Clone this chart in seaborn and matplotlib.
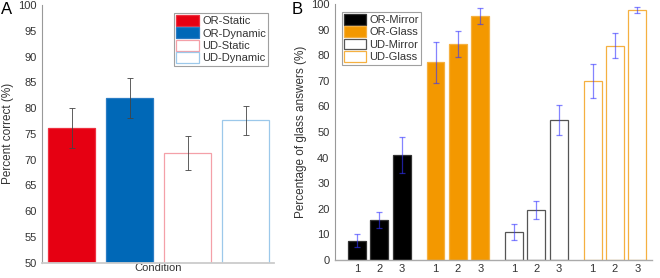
import numpy as np
import pandas as pd
import matplotlib
matplotlib.use("Agg")
import matplotlib.pyplot as plt
from matplotlib.patches import Patch
import seaborn as sns

# ---- Data: panel A ----
a_conditions = ["OR-Static", "OR-Dynamic", "UD-Static", "UD-Dynamic"]
a_values = [76.2, 82.0, 71.3, 77.6]
a_errors = [3.9, 3.9, 3.3, 2.9]

# ---- Data: panel B ----
b_conditions = ["OR-Mirror", "OR-Glass", "UD-Mirror", "UD-Glass"]
b_levels = ["1", "2", "3"]
b_or_mirror = [7.6, 15.6, 41.1]
b_or_glass = [77.2, 84.3, 95.3]
b_ud_mirror = [11.0, 19.5, 54.8]
b_ud_glass = [69.8, 83.7, 97.7]
b_or_mirror_err = [2.6, 3.2, 7.0]
b_or_glass_err = [8.0, 5.0, 3.3]
b_ud_mirror_err = [3.2, 3.5, 5.8]
b_ud_glass_err = [6.7, 4.8, 1.2]

sns.set_theme(style="white")
plt.rcParams["font.family"] = ["Liberation Sans", "DejaVu Sans"]
plt.rcParams["text.color"] = "#333333"
plt.rcParams["axes.labelcolor"] = "#333333"
plt.rcParams["xtick.color"] = "#333333"
plt.rcParams["ytick.color"] = "#333333"

fig = plt.figure(figsize=(6.6, 2.78), dpi=100)
axA = fig.add_axes([42 / 660, 1 - 262.7 / 278, 232 / 660, 257.7 / 278])
axB = fig.add_axes([335 / 660, 1 - 260 / 278, 317 / 660, 256 / 278])

fs = 8

# ---------- Panel A ----------
a_face = ["#e60012", "#0068b7", "none", "none"]
a_edge = ["#ee3040", "#2a7cc4", "#f4a0a8", "#9cc8ea"]
a_pos = [1, 2, 3, 4]
for i in range(4):
    d = pd.DataFrame({"pos": [a_pos[i]], "val": [a_values[i]]})
    filled = a_face[i] != "none"
    sns.barplot(data=d, x="pos", y="val", ax=axA, native_scale=True,
                color=a_face[i] if filled else a_edge[i], fill=filled,
                width=0.8, errorbar=None, saturation=1,
                edgecolor=a_edge[i], linewidth=0.9)
axA.errorbar(a_pos, a_values, yerr=a_errors, fmt="none", ecolor="#444444",
             elinewidth=0.6, capsize=2.2, capthick=0.6)
axA.set_xlim(0.49, 4.49)
axA.set_ylim(50, 100)
axA.set_yticks(np.arange(50, 101, 5))
axA.set_xticks([])
axA.set_xlabel("Condition", fontsize=fs, labelpad=0)
axA.set_ylabel("Percent correct (%)", fontsize=fs + 0.5, labelpad=3)
axA.tick_params(axis="y", direction="in", length=3, width=0.6, color="#888888",
                labelsize=fs, pad=4)
for s in ["top", "right"]:
    axA.spines[s].set_visible(False)
axA.spines["left"].set_color("#999999")
axA.spines["left"].set_linewidth(0.8)
axA.spines["bottom"].set_color("#cccccc")
axA.spines["bottom"].set_linewidth(1.3)
handlesA = [Patch(facecolor=a_face[i] if a_face[i] != "none" else "white",
                  edgecolor=a_edge[i], linewidth=0.9) for i in range(4)]
legA = axA.legend(handlesA, a_conditions, loc="upper right",
                  bbox_to_anchor=(0.975, 0.97), fontsize=fs, frameon=True,
                  fancybox=False, handlelength=2.1, handleheight=1.1,
                  handletextpad=0.25, labelspacing=0.12, borderpad=0.2,
                  borderaxespad=0)
legA.get_frame().set_edgecolor("#888888")
legA.get_frame().set_linewidth(0.8)

# ---------- Panel B ----------
b_vals = [b_or_mirror, b_or_glass, b_ud_mirror, b_ud_glass]
b_errs = [b_or_mirror_err, b_or_glass_err, b_ud_mirror_err, b_ud_glass_err]
b_face = ["black", "#f39800", "none", "none"]
b_edge = ["#333333", "#f5b040", "#555555", "#f5b040"]
b_offsets = [1, 4.5, 8, 11.5]
all_pos, all_lab = [], []
for g in range(4):
    pos = [b_offsets[g] + k for k in range(3)]
    d = pd.DataFrame({"pos": pos, "val": b_vals[g]})
    filled = b_face[g] != "none"
    sns.barplot(data=d, x="pos", y="val", ax=axB, native_scale=True,
                color=b_face[g] if filled else b_edge[g], fill=filled,
                width=0.8, errorbar=None, saturation=1,
                edgecolor=b_edge[g], linewidth=0.9)
    axB.errorbar(pos, b_vals[g], yerr=b_errs[g], fmt="none",
                 ecolor=(0.2, 0.2, 1.0, 0.6), elinewidth=0.9,
                 capsize=2.2, capthick=0.9)
    all_pos += pos
    all_lab += b_levels
axB.set_xlim(0.02, 14.15)
axB.set_ylim(0, 100)
axB.set_yticks(np.arange(0, 101, 10))
axB.set_xticks(all_pos)
axB.set_xticklabels(all_lab)
axB.set_xlabel("")
axB.set_ylabel("Percentage of glass answers (%)", fontsize=fs + 0.5, labelpad=3)
axB.tick_params(axis="y", direction="in", length=3, width=0.6, color="#888888",
                labelsize=fs, pad=4)
axB.tick_params(axis="x", length=0, labelsize=fs, pad=3)
for s in ["top", "right"]:
    axB.spines[s].set_visible(False)
axB.spines["left"].set_color("#999999")
axB.spines["left"].set_linewidth(0.8)
axB.spines["bottom"].set_color("#aaaaaa")
axB.spines["bottom"].set_linewidth(1.0)
handlesB = [Patch(facecolor=b_face[i] if b_face[i] != "none" else "white",
                  edgecolor=b_edge[i], linewidth=0.9) for i in range(4)]
legB = axB.legend(handlesB, b_conditions, loc="upper left",
                  bbox_to_anchor=(0.022, 0.97), fontsize=fs, frameon=True,
                  fancybox=False, handlelength=2.0, handleheight=1.1,
                  handletextpad=0.25, labelspacing=0.12, borderpad=0.2,
                  borderaxespad=0)
legB.get_frame().set_edgecolor("#888888")
legB.get_frame().set_linewidth(0.8)

fig.text(1 / 660, 1 - 2 / 278, "A", fontsize=12, va="top", ha="left", color="black")
fig.text(292 / 660, 1 - 2 / 278, "B", fontsize=12, va="top", ha="left", color="black")

fig.savefig("out.png", dpi=100)
